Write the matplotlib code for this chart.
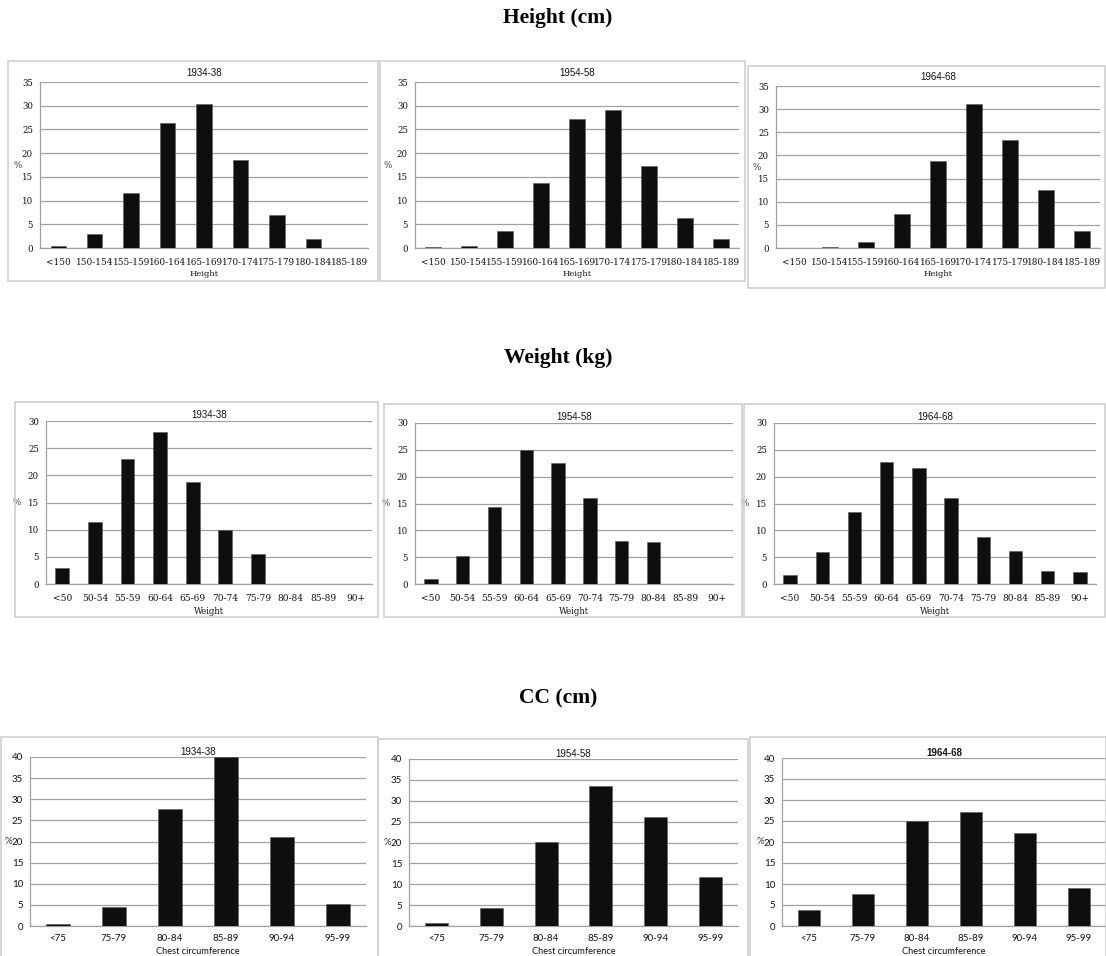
import matplotlib
matplotlib.use('Agg')
import matplotlib.pyplot as plt
from matplotlib.patches import Rectangle
import numpy as np

# ---- data (percent per class) ----
periods = ['1934-38', '1954-58', '1964-68']

height_labels = ['<150', '150-154', '155-159', '160-164', '165-169',
                 '170-174', '175-179', '180-184', '185-189']
height_1934 = [0.5, 3.0, 11.7, 26.4, 30.4, 18.6, 7.0, 2.0, 0.0]
height_1954 = [0.2, 0.5, 3.5, 13.8, 27.2, 29.2, 17.3, 6.3, 1.8]
height_1964 = [0.0, 0.2, 1.4, 7.3, 18.9, 31.2, 23.3, 12.6, 3.7]

weight_labels = ['<50', '50-54', '55-59', '60-64', '65-69',
                 '70-74', '75-79', '80-84', '85-89', '90+']
weight_1934 = [2.9, 11.5, 23.0, 27.9, 18.8, 10.0, 5.6, 0.0, 0.0, 0.0]
weight_1954 = [0.9, 5.3, 14.3, 25.0, 22.6, 16.0, 8.0, 7.9, 0.0, 0.0]
weight_1964 = [1.6, 5.9, 13.5, 22.7, 21.6, 16.1, 8.8, 6.1, 2.4, 2.2]

cc_labels = ['<75', '75-79', '80-84', '85-89', '90-94', '95-99']
cc_1934 = [0.5, 4.5, 27.6, 40.0, 21.0, 5.3]
cc_1954 = [0.6, 4.2, 20.1, 33.5, 26.1, 11.8]
cc_1964 = [3.8, 7.7, 24.9, 27.1, 22.1, 9.0]

W, H = 1106, 956
fig = plt.figure(figsize=(W / 100, H / 100), dpi=100)
fig.patch.set_facecolor('white')

GRID = '#a0a0a0'
FRAME = '#cfcfcf'
TXT = '#111111'


def frame(x0, x1, y0, y1):
    fig.patches.append(Rectangle((x0 / W, 1 - y1 / H), (x1 - x0) / W, (y1 - y0) / H,
                                 transform=fig.transFigure, fill=False,
                                 edgecolor=FRAME, linewidth=1.2))


def panel(box, labels, values, title, ymax, xlabel, font, tsize, ysize,
          xpad, lpad, pct_dx, title_dy, title_bold=False):
    x0, x1, ytop, ybot = box
    ax = fig.add_axes([x0 / W, 1 - ybot / H, (x1 - x0) / W, (ybot - ytop) / H])
    x = np.arange(len(labels))
    ax.bar(x, values, width=0.42, color='#0e0e0e', edgecolor='#5a5a5a',
           linewidth=0.4, zorder=3)
    ax.set_xlim(-0.5, len(labels) - 0.5)
    ax.set_ylim(0, ymax)
    ax.set_yticks(np.arange(0, ymax + 1, 5))
    ax.yaxis.grid(True, color=GRID, linewidth=0.9, zorder=0)
    ax.set_axisbelow(True)
    for s in ['top', 'right']:
        ax.spines[s].set_visible(False)
    for s in ['left', 'bottom']:
        ax.spines[s].set_color(GRID)
        ax.spines[s].set_linewidth(0.9)
    ax.tick_params(axis='both', length=0)
    ax.tick_params(axis='x', pad=xpad)
    ax.tick_params(axis='y', pad=5)
    ax.set_xticks(x)
    ax.set_xticklabels(labels, family=font, fontsize=tsize, color=TXT)
    for t in ax.get_yticklabels():
        t.set_family(font)
        t.set_fontsize(ysize)
        t.set_color(TXT)
    ax.set_xlabel(xlabel, family=font, fontsize=tsize - 0.3, labelpad=lpad, color=TXT)
    ax.annotate('%', xy=(0, 0.5), xycoords='axes fraction',
                xytext=(-pct_dx * 0.72, 0), textcoords='offset points',
                ha='center', va='center', family=font, fontsize=ysize,
                color='#333333')
    ax.annotate(title, xy=(0.5, 1), xycoords='axes fraction',
                xytext=(0, title_dy * 0.72), textcoords='offset points',
                ha='center', va='center', family='Liberation Sans', fontsize=7,
                fontweight='bold' if title_bold else 'normal', color=TXT)
    ax.set_facecolor('none')
    return ax


# ---- section titles ----
for txt, y in [('Height (cm)', 18), ('Weight (kg)', 358), ('CC (cm)', 698)]:
    fig.text(558 / W, 1 - y / H, txt, ha='center', va='center',
             family='Liberation Serif', fontweight='bold', fontsize=15.5)

# ---- frames ----
frame(8, 378, 61, 281)
frame(380, 745, 61, 281)
frame(748, 1105, 66, 288)
frame(15, 378, 402, 617)
frame(384, 742, 404, 617)
frame(744, 1105, 404, 617)
frame(1, 378, 737, 958)
frame(378, 748, 739, 958)
frame(750, 1106, 737, 958)

# ---- height row ----
height_series = [height_1934, height_1954, height_1964]
height_boxes = [(40, 368, 82, 248), (415, 739, 82, 248), (776, 1100, 86, 248)]
height_pct = [22, 27, 19]
for vals, box, per, pdx in zip(height_series, height_boxes, periods, height_pct):
    panel(box, height_labels, vals, per, 35, 'Height', 'DejaVu Serif', 6.4, 6.2,
          xpad=7.5, lpad=2, pct_dx=pdx, title_dy=9)

# ---- weight row ----
weight_series = [weight_1934, weight_1954, weight_1964]
weight_boxes = [(46, 372, 421, 584), (415, 733, 423, 584), (774, 1096, 423, 584)]
for vals, box, per in zip(weight_series, weight_boxes, periods):
    panel(box, weight_labels, vals, per, 30, 'Weight', 'DejaVu Serif', 6.5, 6.2,
          xpad=7.5, lpad=2.5, pct_dx=29, title_dy=6)

# ---- chest circumference row ----
cc_series = [cc_1934, cc_1954, cc_1964]
cc_boxes = [(30, 366, 757, 926), (409, 738, 759, 926), (782, 1106, 758, 926)]
for i, (vals, box, per) in enumerate(zip(cc_series, cc_boxes, periods)):
    panel(box, cc_labels, vals, per, 40, 'Chest circumference', 'Lato', 7, 7,
          xpad=5.5, lpad=3, pct_dx=22, title_dy=5, title_bold=(i == 2))

fig.savefig('out.png', dpi=100, facecolor='white')
